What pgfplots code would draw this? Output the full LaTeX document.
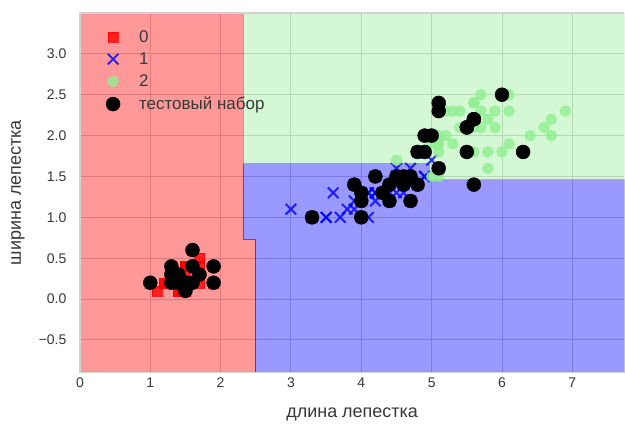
\documentclass[border=0pt]{standalone}
\usepackage{pgfplots}
\pgfplotsset{compat=1.18}
\usepackage{fontspec}
\setmainfont{Liberation Sans}
\definecolor{lgreen}{RGB}{144,238,144}
\definecolor{txt}{RGB}{55,55,55}
\definecolor{gridc}{RGB}{204,204,204}
\definecolor{spine}{RGB}{210,210,210}
\begin{document}
\begin{tikzpicture}
\begin{axis}[
 scale only axis, width=545pt, height=360pt,
 xmin=0, xmax=7.74, ymin=-0.9, ymax=3.5,
 xtick={0,...,7}, ytick={-0.5,0,0.5,1,1.5,2,2.5,3},
 xticklabels={0,1,2,3,4,5,6,7},
 yticklabels={−0.5,0.0,0.5,1.0,1.5,2.0,2.5,3.0},
 major tick length=0pt,
 grid=major, grid style={gridc, line width=1pt},
 axis line style={draw=none},
 tick label style={font=\fontsize{14}{16}\selectfont, text=txt},
 yticklabel style={xshift=-10pt},
 xticklabel style={yshift=-2pt},
 xlabel={длина лепестка}, ylabel={ширина лепестка},
 label style={font=\fontsize{18}{20}\selectfont, text=txt},
 xlabel style={at={(axis description cs:0.5,0)}, anchor=center, yshift=-42pt},
 ylabel style={at={(axis description cs:0,0.5)}, anchor=center, yshift=62pt},
 legend style={draw=none, fill=none, at={(axis description cs:0,1)}, anchor=north west,
   xshift=23pt, yshift=-13pt,
   font=\fontsize{17}{19}\selectfont, text=txt, row sep=5pt,
   /tikz/every odd column/.append style={column sep=17pt}},
 legend cell align=left,
 after end axis/.append code={
   \draw[spine, line width=1.2pt] (rel axis cs:1,1) -- (rel axis cs:0,1) -- (rel axis cs:0,0) -- (rel axis cs:1,0);
   \path (rel axis cs:0,0) ++(-80pt,-50pt);
   \path (rel axis cs:1,1) ++(0pt,13pt);
 },
]
% decision regions
\addplot[draw=red, draw opacity=0.4, line width=0.8pt, fill=red, fill opacity=0.4, forget plot] coordinates {
 (0,-0.9) (2.49,-0.9) (2.49,0.73) (2.33,0.73) (2.33,3.5) (0,3.5)} -- cycle;
\addplot[draw=blue, draw opacity=0.4, line width=0.8pt, fill=blue, fill opacity=0.4, forget plot] coordinates {
 (2.49,-0.9) (7.74,-0.9) (7.74,1.46) (4.97,1.46) (4.97,1.66) (2.33,1.66) (2.33,0.73) (2.49,0.73)} -- cycle;
\addplot[draw=lgreen, draw opacity=0.4, line width=0.8pt, fill=lgreen, fill opacity=0.4, forget plot] coordinates {
 (2.33,1.66) (4.97,1.66) (4.97,1.46) (7.74,1.46) (7.74,3.5) (2.33,3.5)} -- cycle;

% class 0
\addplot[only marks, mark=square*, mark size=5pt, color=red, opacity=0.8] coordinates {
(1.4,0.2) (1.4,0.2) (1.3,0.2) (1.5,0.2) (1.4,0.2) (1.7,0.4) (1.4,0.3) (1.5,0.2) (1.4,0.2) (1.5,0.1)
(1.5,0.2) (1.6,0.2) (1.4,0.1) (1.1,0.1) (1.2,0.2) (1.5,0.4) (1.3,0.4) (1.4,0.3) (1.7,0.3) (1.5,0.3)
(1.7,0.2) (1.5,0.4) (1.0,0.2) (1.7,0.5) (1.9,0.2) (1.6,0.2) (1.6,0.4) (1.5,0.2) (1.4,0.2) (1.6,0.2)
(1.6,0.2) (1.5,0.4) (1.5,0.1) (1.4,0.2) (1.5,0.2) (1.2,0.2) (1.3,0.2) (1.4,0.1) (1.3,0.2) (1.5,0.2)
(1.3,0.3) (1.3,0.3) (1.3,0.2) (1.6,0.6) (1.9,0.4) (1.4,0.3) (1.6,0.2) (1.4,0.2) (1.5,0.2) (1.4,0.2)};
\addlegendentry{0}
% class 1
\addplot[only marks, mark=x, mark size=7.5pt, color=blue, opacity=0.8, mark options={line width=2pt}] coordinates {
(4.7,1.4) (4.5,1.5) (4.9,1.5) (4.0,1.3) (4.6,1.5) (4.5,1.3) (4.7,1.6) (3.3,1.0) (4.6,1.3) (3.9,1.4)
(3.5,1.0) (4.2,1.5) (4.0,1.0) (4.7,1.4) (3.6,1.3) (4.4,1.4) (4.5,1.5) (4.1,1.0) (4.5,1.5) (3.9,1.1)
(4.8,1.8) (4.0,1.3) (4.9,1.5) (4.7,1.2) (4.3,1.3) (4.4,1.4) (4.8,1.4) (5.0,1.7) (4.5,1.5) (3.5,1.0)
(3.8,1.1) (3.7,1.0) (3.9,1.2) (5.1,1.6) (4.5,1.5) (4.5,1.6) (4.7,1.5) (4.4,1.3) (4.1,1.3) (4.0,1.3)
(4.4,1.2) (4.6,1.4) (4.0,1.2) (3.3,1.0) (4.2,1.3) (4.2,1.2) (4.2,1.3) (4.3,1.3) (3.0,1.1) (4.1,1.3)};
\addlegendentry{1}
% class 2
\addplot[only marks, mark=*, mark size=5.5pt, color=lgreen, opacity=0.8] coordinates {
(6.0,2.5) (5.1,1.9) (5.9,2.1) (5.6,1.8) (5.8,2.2) (6.6,2.1) (4.5,1.7) (6.3,1.8) (5.8,1.8) (6.1,2.5)
(5.1,2.0) (5.3,1.9) (5.5,2.1) (5.0,2.0) (5.1,2.4) (5.3,2.3) (5.5,1.8) (6.7,2.2) (6.9,2.3) (5.0,1.5)
(5.7,2.3) (4.9,2.0) (6.7,2.0) (4.9,1.8) (5.7,2.1) (6.0,1.8) (4.8,1.8) (4.9,1.8) (5.6,2.1) (5.8,1.6)
(6.1,1.9) (6.4,2.0) (5.6,2.2) (5.1,1.5) (5.6,1.4) (6.1,2.3) (5.6,2.4) (5.5,1.8) (4.8,1.8) (5.4,2.1)
(5.6,2.4) (5.1,2.3) (5.1,1.9) (5.9,2.3) (5.7,2.5) (5.2,2.3) (5.0,1.9) (5.2,2.0) (5.4,2.3) (5.1,1.8)};
\addlegendentry{2}
% test set
\addplot[only marks, mark=*, mark size=7pt, color=black] coordinates {
(1.0,0.2) (1.3,0.4) (1.3,0.3) (1.3,0.2) (1.4,0.2) (1.4,0.3) (1.5,0.2) (1.5,0.1) (1.6,0.6) (1.6,0.4)
(1.7,0.3) (1.6,0.2) (1.9,0.4) (1.9,0.2) (1.5,0.2)
(3.3,1.0) (4.0,1.0) (4.0,1.2) (4.0,1.3) (3.9,1.4) (4.3,1.3) (4.4,1.2) (4.7,1.2) (4.2,1.5) (4.5,1.5)
(4.6,1.5) (4.7,1.5) (4.8,1.4) (4.4,1.4) (4.6,1.4)
(6.0,2.5) (5.1,2.4) (5.1,2.3) (5.6,2.2) (5.5,2.1) (4.9,2.0) (4.8,1.8) (4.9,1.8) (5.5,1.8) (6.3,1.8)
(5.1,1.6) (5.6,1.4) (5.0,2.0) (5.5,2.1) (5.6,2.2)};
\addlegendentry{тестовый набор}
\end{axis}
\end{tikzpicture}
\end{document}
